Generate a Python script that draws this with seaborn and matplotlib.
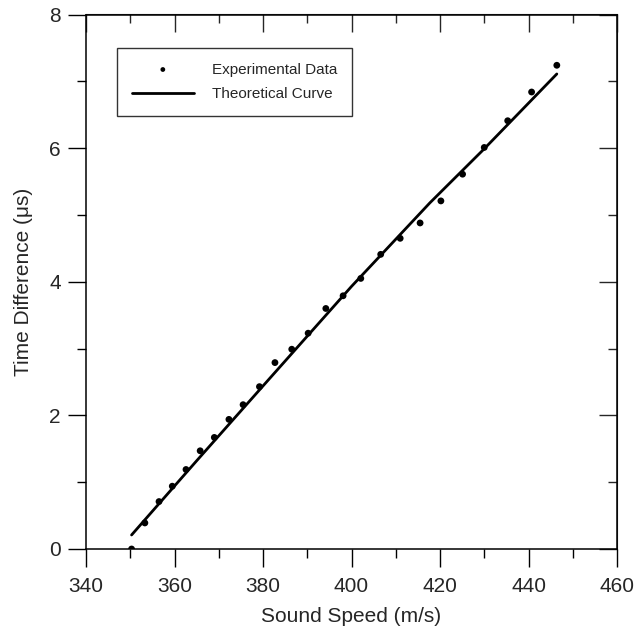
import matplotlib
matplotlib.use("Agg")
import matplotlib.pyplot as plt
import seaborn as sns
from matplotlib.ticker import MultipleLocator

speed = [350.3, 353.3, 356.5, 359.5, 362.6, 365.8, 369.0, 372.3, 375.5, 379.2,
         382.7, 386.5, 390.2, 394.2, 398.1, 402.1, 406.6, 411.0, 415.5, 420.2,
         425.1, 430.0, 435.3, 440.7, 446.4]
time_diff = [0.00, 0.39, 0.71, 0.94, 1.19, 1.47, 1.67, 1.94, 2.16, 2.43,
             2.79, 2.99, 3.23, 3.60, 3.79, 4.05, 4.41, 4.65, 4.88, 5.21,
             5.61, 6.01, 6.41, 6.84, 7.24]

# Theoretical curve
curve_speed = [350.3, 365.0, 381.2, 400.0, 417.7, 430.0, 446.4]
curve_time = [0.21, 1.32, 2.53, 3.93, 5.18, 5.99, 7.11]

x_ticks = [340, 360, 380, 400, 420, 440, 460]
y_ticks = [0, 2, 4, 6, 8]

sns.set_style("ticks")
plt.rcParams["font.family"] = ["Liberation Sans", "DejaVu Sans"]

W, H = 637, 627
fig = plt.figure(figsize=(W / 100, H / 100), dpi=100)
L, R, T, B = 86, 617, 14.5, 549
ax = fig.add_axes([L / W, 1 - B / H, (R - L) / W, (B - T) / H])

sns.lineplot(x=curve_speed, y=curve_time, ax=ax, color="black", linewidth=2,
             sort=False, label="Theoretical Curve")
sns.scatterplot(x=speed, y=time_diff, ax=ax, color="black", s=24,
                edgecolor="none", label="Experimental Data", zorder=3)

ax.set_xlim(340, 460)
ax.set_ylim(0, 8)
ax.set_xticks(x_ticks)
ax.set_yticks(y_ticks)
ax.xaxis.set_minor_locator(MultipleLocator(10))
ax.yaxis.set_minor_locator(MultipleLocator(1))
ax.tick_params(which="major", direction="out", length=13, width=1,
               labelsize=15, color="black", pad=5)
ax.tick_params(axis="x", which="major", pad=7)
ax.tick_params(which="minor", direction="out", length=6.5, width=1, color="black")

for s in ax.spines.values():
    s.set_linewidth(1.1)
    s.set_color("black")

# top and right axes with inward ticks
secx = ax.secondary_xaxis("top")
secx.set_xticks(x_ticks)
secx.xaxis.set_minor_locator(MultipleLocator(10))
secx.tick_params(which="major", direction="in", length=13, width=1, labeltop=False)
secx.tick_params(which="minor", direction="in", length=6.5, width=1)
secy = ax.secondary_yaxis("right")
secy.set_yticks(y_ticks)
secy.yaxis.set_minor_locator(MultipleLocator(1))
secy.tick_params(which="major", direction="in", length=13, width=1, labelright=False)
secy.tick_params(which="minor", direction="in", length=6.5, width=1)

ax.set_xlabel("Sound Speed (m/s)", fontsize=15, labelpad=8)
ax.set_ylabel("Time Difference (\u03bcs)", fontsize=15, labelpad=12)

handles, labels = ax.get_legend_handles_labels()
order = [labels.index("Experimental Data"), labels.index("Theoretical Curve")]
leg = ax.legend([handles[i] for i in order], [labels[i] for i in order],
                loc="upper left", bbox_to_anchor=((117 - L) / (R - L), (B - 48) / (B - T)),
                borderaxespad=0, fontsize=11, frameon=True, fancybox=False,
                edgecolor="black", handlelength=4.1, handletextpad=1.2,
                borderpad=0.95, labelspacing=0.7, markerscale=0.7)
leg.get_frame().set_linewidth(1.0)

fig.savefig("out.png", dpi=100)
